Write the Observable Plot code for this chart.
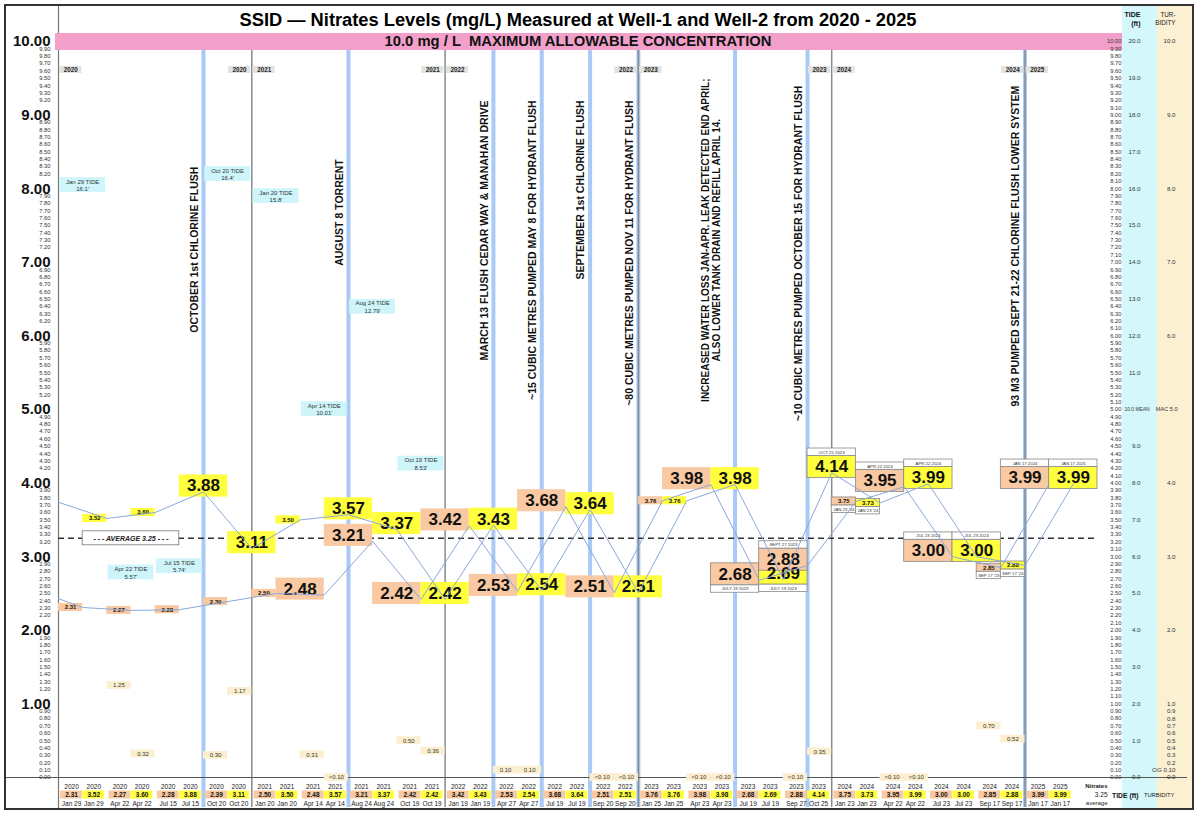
<!DOCTYPE html>
<html><head><meta charset="utf-8">
<script src="https://cdn.jsdelivr.net/npm/d3@7"></script>
<script src="https://cdn.jsdelivr.net/npm/@observablehq/plot@0.6"></script>
<style>
html,body{margin:0;padding:0;background:#fff;}
#wrap{position:relative;width:1200px;height:813px;overflow:hidden;background:#fff;font-family:"Liberation Sans",Arial,Helvetica,sans-serif;}
.col{position:absolute;top:5px;height:803px;}
#frame{position:absolute;left:4px;top:4px;width:1186px;height:802px;border:2px solid #333;pointer-events:none;}
#chart{position:absolute;left:0;top:0;}
</style></head><body>
<div id="wrap">
  <div class="col" style="left:1122px;width:35px;background:#d3f7fb"></div>
  <div class="col" style="left:1157px;width:35px;background:#fcf0d3"></div>
  <div id="chart"></div>
  <div id="frame"></div>
</div>
<script>
// ---------------- DATA ----------------
const titleText = "SSID \u2014 Nitrates Levels (mg/L) Measured at Well-1 and Well-2 from 2020 - 2025";
const macText = "10.0 mg / L  MAXIMUM ALLOWABLE CONCENTRATION";
const macValue = 10;
const avgNitrate = 3.25;
const years = [2020, 2021, 2022, 2023, 2024, 2025];

// one entry per sampling event (Well-1 sample, then Well-2 sample)
const eventYears = [2020,2020,2020,2020,2021,2021,2021,2021,2022,2022,2022,2022,2023,2023,2023,2023,2024,2024,2024,2024,2025];
const well1Dates = ["Jan 29","Apr 22","Jul 15","Oct 20","Jan 20","Apr 14","Aug 24","Oct 19","Jan 19","Apr 27","Jul 19","Sep 20","Jan 25","Apr 23","Jul 19","Sep 27","Jan 23","Apr 22","Jul 23","Sep 17","Jan 17"];
const well2Dates = ["Jan 29","Apr 22","Jul 15","Oct 20","Jan 20","Apr 14","Aug 24","Oct 19","Jan 19","Apr 27","Jul 19","Sep 20","Jan 25","Apr 23","Jul 19","Oct 25","Jan 23","Apr 22","Jul 23","Sep 17","Jan 17"];
const well1Nitrate = [2.31,2.27,2.28,2.39,2.50,2.48,3.21,2.42,3.42,2.53,3.68,2.51,3.76,3.98,2.68,2.88,3.75,3.95,3.00,2.85,3.99];
const well2Nitrate = [3.52,3.60,3.88,3.11,3.50,3.57,3.37,2.42,3.43,2.54,3.64,2.51,3.76,3.98,2.69,4.14,3.73,3.99,3.00,2.88,3.99];
// values before the first sample (line enters from the left edge)
const well1Prior = 2.55;
const well2Prior = 3.74;
const well1Turbidity = [null,"1.25",null,"0.30",null,"0.31",null,"0.50",null,"0.10",null,"<0.10",null,"<0.10",null,"<0.10",null,"<0.10",null,"0.70",null];
const well2Turbidity = [null,"0.32",null,"1.17",null,"<0.10",null,"0.36",null,"0.10",null,"<0.10",null,"<0.10",null,"0.35",null,"<0.10",null,"0.52",null];
const tideFeet = [16.1, 5.57, 5.74, 16.4, 15.8, 10.01, 12.79, 8.53]; // first 8 events

// event annotations: placed after the n-th sample (chronological, 1-based)
const annotationAfter = [6, 12, 18, 20, 22, 24, 28, 31, 40];
const annotationText = [
  "OCTOBER 1st CHLORINE FLUSH",
  "AUGUST 8 TORRENT",
  "MARCH 13 FLUSH CEDAR WAY & MANAHAN DRIVE",
  "~15 CUBIC METRES PUMPED MAY 8 FOR HYDRANT FLUSH",
  "SEPTEMBER 1st CHLORINE FLUSH",
  "~80 CUBIC METRES PUMPED NOV 11 FOR HYDRANT FLUSH",
  "INCREASED WATER LOSS JAN-APR. LEAK DETECTED END APRIL;\nALSO LOWER TANK DRAIN AND REFILL APRIL 14.",
  "~10 CUBIC METRES PUMPED OCTOBER 15 FOR HYDRANT FLUSH",
  "93 M3 PUMPED SEPT 21-22 CHLORINE FLUSH LOWER SYSTEM"
];
const dateTagsAbove = [[15,1,"SEPT 27 2023"],[15,2,"OCT 25 2023"],[17,1,"APR 22 2024"],[17,2,"APR 22 2024"],[18,1,"JUL 23 2024"],[18,2,"JUL 23 2024"],[20,1,"JAN 17 2024"],[20,2,"JAN 17 2025"]];
const dateTagsBelow = [[14,1,"JULY 19 2023"],[14,2,"JULY 19 2023"],[16,1,"JAN 23 '24"],[16,2,"JAN 23 '24"],[19,1,"SEP 17 '23"],[19,2,"SEP 17 '24"]];

// ---------------- LAYOUT / STYLE ----------------
// top end of single-line notes; centre of the two-line note
const annotationAnchorY = [8.3, 8.4, 9.2, 9.2, 9.2, 9.2, 7.3, 9.4, 9.4];
const smallW1 = new Set([0,1,2,3,4,12,16,19]);
const smallW2 = new Set([0,1,4,12,16,19]);
const PEACH = "#f8c9a2", YELLOW = "#ffff3d", CREAM = "#fcefd0", CYAN = "#cdf5fa";
const EVBLUE = "#a9c9f6", SERIES = "#8ba7da", PINK = "#f2a0ca";
const FONT = '"Liberation Sans", Arial, Helvetica, sans-serif';

// sample position on x: 8 samples per year, Well-1 then Well-2
const pos1 = k => 2 * k + 1;
const pos2 = k => 2 * k + 2;

const samples = [];
well1Nitrate.forEach((v, k) => samples.push({k, well: 1, pos: pos1(k), value: v, date: well1Dates[k], year: eventYears[k], turb: well1Turbidity[k]}));
well2Nitrate.forEach((v, k) => samples.push({k, well: 2, pos: pos2(k), value: v, date: well2Dates[k], year: eventYears[k], turb: well2Turbidity[k]}));
samples.sort((a, b) => a.pos - b.pos);

const tagKey = (k, w) => k + "-" + w;
const taggedSet = new Set([...dateTagsAbove, ...dateTagsBelow].map(d => tagKey(d[0], d[1])));

const boxes = samples.map(d => {
  const small = (d.well === 1 ? smallW1 : smallW2).has(d.k);
  const b = small
    ? {x1: d.pos - 1, x2: d.pos, yc: d.value, h: 0.055}
    : {x1: d.well === 1 ? d.pos - 2 : d.pos - 1, x2: d.well === 1 ? d.pos : d.pos + 1, yc: d.value + 0.08, h: 0.15};
  return {...d, ...b, small, tagged: taggedSet.has(tagKey(d.k, d.well)), fill: d.well === 1 ? PEACH : YELLOW};
});
const boxOf = (k, w) => boxes.find(b => b.k === k && b.well === w);
const tags = [
  ...dateTagsAbove.map(([k, w, t]) => { const b = boxOf(k, w); return {x1: b.x1, x2: b.x2, y1: b.yc + b.h, y2: b.yc + b.h + 0.1, text: t}; }),
  ...dateTagsBelow.map(([k, w, t]) => { const b = boxOf(k, w); return {x1: b.x1, x2: b.x2, y1: b.yc - b.h - 0.1, y2: b.yc - b.h, text: t}; })
];

const line1 = [{pos: -1, value: well1Prior}, ...samples.filter(d => d.well === 1)];
const line2 = [{pos: 0, value: well2Prior}, ...samples.filter(d => d.well === 2)];

const turb = samples.filter(d => d.turb).map(d => ({...d, tv: d.turb.startsWith("<") ? 0 : +d.turb}));

const tides = tideFeet.map((t, k) => ({k, pos: pos1(k), tide: t, label: well1Dates[k] + " TIDE\n" + t + "'"}));

const annotations = annotationAfter.map((p, i) => ({pos: p, text: annotationText[i], ay: annotationAnchorY[i], lines: annotationText[i].split("\n").length}));

const yearTags = [];
years.forEach((yr, i) => {
  const b = (yr - years[0]) * 8;
  yearTags.push({x1: b + 0.05, x2: b + 0.97, label: String(yr)});
  if (i > 0) yearTags.push({x1: b - 0.97, x2: b - 0.05, label: String(yr - 1)});
});
const yearBounds = years.slice(1).map(y => (y - years[0]) * 8);

const table = samples.map(d => ({...d, tx: d.well === 1 ? d.pos - 0.46 : d.pos - 0.54}));

// left axis: x.10 label just above each big integer label is hidden, as in the source
const minorTicks = d3.range(1, 100).filter(i => i % 10 && !(i > 10 && i % 10 === 1)).map(i => i / 10);
const majorTicks = d3.range(1, 11);
const rightTicks = d3.range(0, 101).map(i => i / 10);
const tideTicks = d3.range(0, 21).map(i => i / 2);
const turbTicks = [0, ...d3.range(1, 11).map(i => i / 10), ...d3.range(2, 11)];

const T = (extra) => Object.assign({lineAnchor: "middle", fill: "#222"}, extra);

// ---------------- PLOT ----------------
const chart = Plot.plot({
  width: 1200, height: 813,
  marginLeft: 58, marginRight: 103, marginTop: 41, marginBottom: 36,
  x: {domain: [0, 43], axis: null},
  y: {domain: [0, 10], axis: null},
  style: {background: "transparent", fontFamily: FONT, overflow: "visible"},
  marks: [
    // event lines
    Plot.ruleX(annotations, {x: "pos", stroke: EVBLUE, strokeWidth: 4, insetTop: 9, insetBottom: -30}),
    // year lines
    Plot.ruleX(yearBounds, {stroke: "#8a8a8a", strokeWidth: 1.5, insetTop: 9, insetBottom: -30}),
    Plot.ruleX([0], {stroke: "#777", strokeWidth: 1.2, insetTop: -37, insetBottom: -31}),
    // zero line across everything
    Plot.ruleY([0], {stroke: "#555", strokeWidth: 1, insetLeft: -53, insetRight: -90}),
    // average line
    Plot.ruleY([avgNitrate], {stroke: "#333", strokeWidth: 1.4, strokeDasharray: "6,4"}),
    Plot.rect([avgNitrate], {x1: () => pos1(0), x2: () => pos1(2), y1: d => d - 0.095, y2: d => d + 0.095, fill: "white", stroke: "#777", strokeWidth: 0.8}),
    Plot.text([avgNitrate], T({x: () => (pos1(0) + pos1(2)) / 2, y: d => d, text: d => "- - - AVERAGE " + d.toFixed(2) + " - - -", fontSize: 7, fontWeight: "bold", fontStyle: "italic"})),
    // tide labels
    Plot.rect(tides, {x1: d => d.pos - 0.95, x2: d => d.pos + 0.95, y1: d => d.tide / 2 - 0.1, y2: d => d.tide / 2 + 0.1, fill: CYAN}),
    Plot.text(tides, T({x: "pos", y: d => d.tide / 2, text: "label", fontSize: 6, lineHeight: 1.25, fill: "#333"})),
    // turbidity labels
    Plot.rect(turb, {x1: d => d.pos - 1, x2: d => d.pos, y1: d => d.tv - 0.052, y2: d => d.tv + 0.052, fill: CREAM}),
    Plot.text(turb, T({x: d => d.pos - 0.5, y: "tv", text: "turb", fontSize: 6, fill: "#333"})),
    // value labels
    Plot.rect(boxes, {x1: "x1", x2: "x2", y1: d => d.yc - d.h, y2: d => d.yc + d.h, fill: "fill", stroke: d => d.tagged ? "#888" : "none", strokeWidth: 0.8}),
    Plot.rect(tags, {x1: "x1", x2: "x2", y1: "y1", y2: "y2", fill: "white", stroke: "#888", strokeWidth: 0.8}),
    Plot.text(tags, T({x: d => (d.x1 + d.x2) / 2, y: d => (d.y1 + d.y2) / 2, text: "text", fontSize: 4.3, fill: "#333"})),
    Plot.text(boxes.filter(d => !d.small), T({x: d => (d.x1 + d.x2) / 2, y: "yc", text: d => d.value.toFixed(2), fontSize: 17, fontWeight: "bold", fill: "#111"})),
    Plot.text(boxes.filter(d => d.small), T({x: d => (d.x1 + d.x2) / 2, y: "yc", text: d => d.value.toFixed(2), fontSize: 6, fontWeight: "bold", fill: "#111"})),
    // well series
    Plot.line(line1, {x: "pos", y: "value", stroke: SERIES, strokeWidth: 1, clip: true}),
    Plot.line(line2, {x: "pos", y: "value", stroke: SERIES, strokeWidth: 1, clip: true}),
    // MAC band
    Plot.ruleY([macValue], {stroke: PINK, strokeWidth: 17, insetLeft: -3, insetRight: -25}),
    Plot.text([macText], T({y: () => macValue, frameAnchor: "middle", text: d => d, fontSize: 14.8, fontWeight: "bold", fill: "#111"})),
    // year tags at top
    Plot.rect(yearTags, {x1: "x1", x2: "x2", fill: "#e2e2e2", insetTop: 25, insetBottom: 704}),
    Plot.text(yearTags, T({x: d => (d.x1 + d.x2) / 2, frameAnchor: "top", dy: 28.5, text: "label", fontSize: 6.3, fontWeight: "bold"})),
    // annotations
    Plot.text(annotations.filter(d => d.lines === 1), T({x: "pos", y: "ay", text: "text", rotate: -90, textAnchor: "end", dx: -9, fontSize: 10.5, fontWeight: "bold", fill: "#111"})),
    Plot.text(annotations.filter(d => d.lines > 1), T({x: "pos", y: "ay", text: "text", rotate: -90, textAnchor: "middle", dx: -24, fontSize: 10, fontWeight: "bold", fill: "#111", lineHeight: 1.08})),
    // left axis
    Plot.text(majorTicks, T({y: d => d, frameAnchor: "left", dx: -8, textAnchor: "end", text: d => d.toFixed(2), fontSize: 15, fontWeight: "bold", fill: "#111"})),
    Plot.text([0, ...minorTicks], T({y: d => d, frameAnchor: "left", dx: -8, textAnchor: "end", text: d => d.toFixed(2), fontSize: 5.8, fill: "#333"})),
    // right nitrate axis
    Plot.text(rightTicks, T({y: d => d, frameAnchor: "right", dx: 24, textAnchor: "end", text: d => d.toFixed(2), fontSize: 5.8, fill: "#333"})),
    // tide axis
    Plot.text(tideTicks.filter(d => d !== 5), T({y: d => d, frameAnchor: "right", dx: 43, text: d => (2 * d).toFixed(1), fontSize: 6.2, fill: "#333"})),
    Plot.text(tideTicks.filter(d => d === 5), T({y: d => d, frameAnchor: "right", dx: 27, textAnchor: "start", text: d => (2 * d).toFixed(1) + " MEAN", fontSize: 4.9, fill: "#333"})),
    // turbidity axis
    Plot.text(turbTicks.filter(d => d !== 5), T({y: d => d, frameAnchor: "right", dx: 78, text: d => d === 0.1 ? "OG 0.10" : d.toFixed(1), fontSize: 6.2, fill: "#333"})),
    Plot.text(turbTicks.filter(d => d === 5), T({y: d => d, frameAnchor: "right", dx: 80, text: d => "MAC " + d.toFixed(1), fontSize: 5.6, fill: "#333"})),
    // table
    Plot.text(table, T({x: "tx", frameAnchor: "bottom", dy: 9, text: d => String(d.year), fontSize: 6.5})),
    Plot.rect(table, {x1: d => d.tx - 0.45, x2: d => d.tx + 0.45, fill: d => d.well === 1 ? PEACH : YELLOW, insetTop: 749.5, insetBottom: -21.5}),
    Plot.text(table, T({x: "tx", frameAnchor: "bottom", dy: 17.5, text: d => d.value.toFixed(2), fontSize: 6.5, fontWeight: "bold", fill: "#111"})),
    Plot.text(table, T({x: "tx", frameAnchor: "bottom", dy: 26, text: "date", fontSize: 6.5})),
    Plot.text(["Nitrates"], T({frameAnchor: "bottom-right", dx: 10, dy: 8.5, text: d => d, fontSize: 6, fontWeight: "bold"})),
    Plot.text([avgNitrate.toFixed(2)], T({frameAnchor: "bottom-right", dx: 10, dy: 17.5, text: d => d, fontSize: 6.5})),
    Plot.text(["average"], T({frameAnchor: "bottom-right", dx: 10, dy: 26, text: d => d, fontSize: 6})),
    Plot.text(["TIDE (ft)"], T({frameAnchor: "bottom-right", dx: 41, dy: 18, text: d => d, fontSize: 6.8, fontWeight: "bold", fill: "#111"})),
    Plot.text(["TURBIDITY"], T({frameAnchor: "bottom-right", dx: 77, dy: 18, text: d => d, fontSize: 5.8})),
    Plot.text(["TIDE\n(ft)"], T({frameAnchor: "top-right", dx: 43, dy: -23, text: d => d, fontSize: 7, fontWeight: "bold", lineHeight: 1.25, fill: "#111"})),
    Plot.text(["TUR-\nBIDITY"], T({frameAnchor: "top-right", dx: 78, dy: -23, text: d => d, fontSize: 6.3, lineHeight: 1.3})),
    // title
    Plot.text([titleText], T({frameAnchor: "top", dy: -21, text: d => d, fontSize: 18.3, fontWeight: "bold", fill: "#000"}))
  ]
});
document.getElementById("chart").appendChild(chart);
</script>
</body></html>
